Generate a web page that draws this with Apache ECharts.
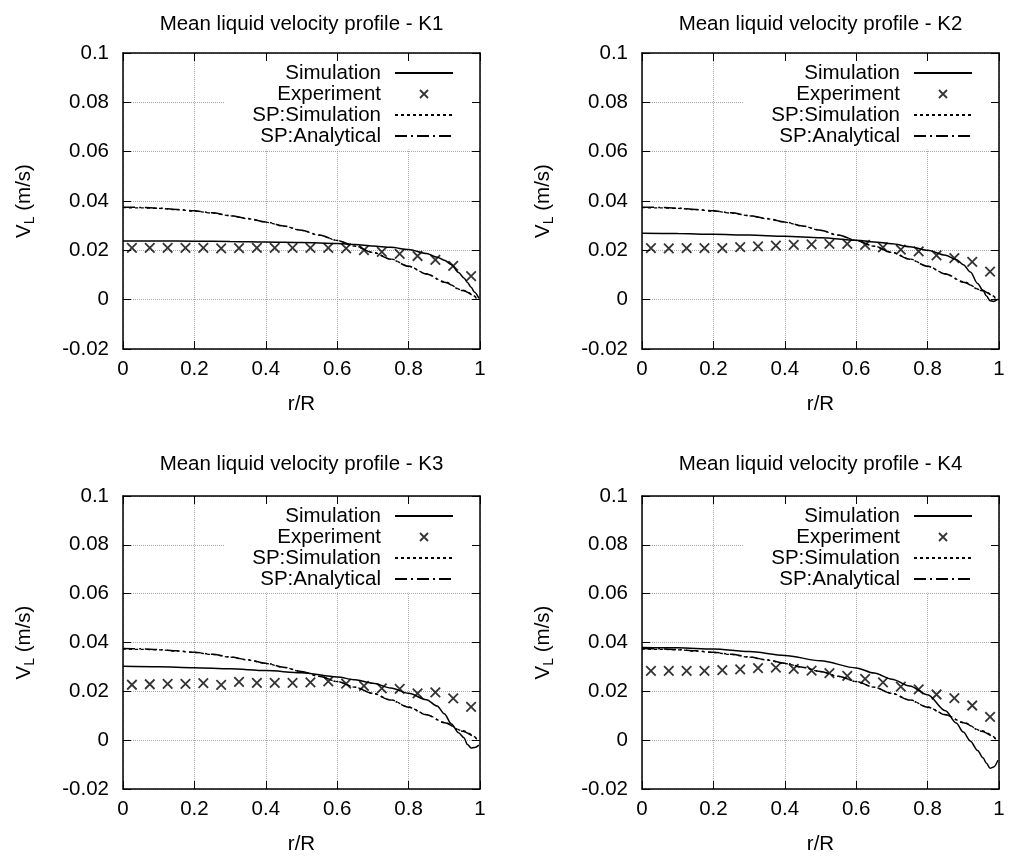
<!DOCTYPE html>
<html>
<head>
<meta charset="utf-8">
<title>Mean liquid velocity profile</title>
<script src="https://cdn.jsdelivr.net/npm/echarts@6/dist/echarts.min.js"></script>
<style>
html, body { margin: 0; padding: 0; background: #fff; }
#container { width: 1009px; height: 856px; }
</style>
</head>
<body>
<div id="container"></div>
<script>
// case names
var cases = ['K1', 'K2', 'K3', 'K4'];

// experiment: measuring positions r/R
var expR = [0.025, 0.075, 0.125, 0.175, 0.225, 0.275, 0.325, 0.375, 0.425, 0.475,
            0.525, 0.575, 0.625, 0.675, 0.725, 0.775, 0.825, 0.875, 0.925, 0.975];
var expK1 = [0.0210, 0.0210, 0.0210, 0.0210, 0.0210, 0.0208, 0.0209, 0.0210, 0.0210, 0.0210,
             0.0210, 0.0210, 0.0208, 0.0201, 0.0194, 0.0186, 0.0177, 0.0161, 0.0137, 0.0095];
var expK2 = [0.0209, 0.0208, 0.0209, 0.0209, 0.0209, 0.0213, 0.0216, 0.0219, 0.0222, 0.0224,
             0.0226, 0.0226, 0.0222, 0.0212, 0.0203, 0.0196, 0.0180, 0.0168, 0.0153, 0.0114];
var expK3 = [0.0227, 0.0229, 0.0231, 0.0231, 0.0234, 0.0226, 0.0239, 0.0235, 0.0235, 0.0235,
             0.0237, 0.0241, 0.0232, 0.0222, 0.0212, 0.0210, 0.0192, 0.0196, 0.0171, 0.0136];
var expK4 = [0.0284, 0.0284, 0.0284, 0.0284, 0.0287, 0.0290, 0.0295, 0.0297, 0.0292, 0.0285,
             0.0275, 0.0263, 0.0251, 0.0237, 0.0219, 0.0208, 0.0187, 0.0172, 0.0142, 0.0095];

// two-phase simulation
var simR = [0, 0.1, 0.2, 0.3, 0.4, 0.5, 0.6, 0.65, 0.7, 0.75, 0.8,
            0.85, 0.88, 0.9, 0.92, 0.94, 0.955, 0.965, 0.975, 0.985, 0.997];
var simK1 = [0.0238, 0.0238, 0.0237, 0.0236, 0.0234, 0.0232, 0.0228, 0.0224, 0.0218, 0.0212, 0.0203,
             0.0187, 0.0172, 0.0160, 0.0142, 0.0110, 0.0088, 0.0070, 0.0050, 0.0030, 0.0005];
var simK2 = [0.0269, 0.0268, 0.0265, 0.0262, 0.0257, 0.0251, 0.0241, 0.0234, 0.0227, 0.0215, 0.0200,
             0.0180, 0.0163, 0.0142, 0.0112, 0.0066, 0.0038, 0.0015, -0.0004, -0.0007, 0.0002];
var simK3 = [0.0303, 0.0301, 0.0297, 0.0292, 0.0285, 0.0276, 0.0259, 0.0247, 0.0233, 0.0214, 0.0192,
             0.0166, 0.0140, 0.0108, 0.0066, 0.0030, 0.0010, -0.0018, -0.0032, -0.0030, -0.0020];
var simK4 = [0.0380, 0.0378, 0.0373, 0.0363, 0.0347, 0.0325, 0.0296, 0.0275, 0.0250, 0.0222, 0.0186,
             0.0120, 0.0070, 0.0033, -0.0004, -0.0042, -0.0072, -0.0095, -0.0115, -0.0110, -0.0082];

// single-phase curves (same in every panel)
var spR = [0, 0.05, 0.1, 0.15, 0.2, 0.25, 0.3, 0.35, 0.4, 0.45, 0.5,
           0.55, 0.6, 0.65, 0.7, 0.75, 0.8, 0.85, 0.9, 0.95, 0.995];
var spSim = [0.0373, 0.0372, 0.0370, 0.0365, 0.0359, 0.0351, 0.0340, 0.0328, 0.0314, 0.0298, 0.0281,
             0.0261, 0.0240, 0.0217, 0.0192, 0.0165, 0.0136, 0.0105, 0.0073, 0.0039, 0.0003];
var spAna = [0.0375, 0.0374, 0.0371, 0.0366, 0.0360, 0.0352, 0.0341, 0.0329, 0.0315, 0.0299, 0.0281,
             0.0262, 0.0240, 0.0217, 0.0191, 0.0164, 0.0135, 0.0104, 0.0071, 0.0037, 0.0000];

var yTicks = [-0.02, 0.1, 0.02];
var xTicks = [0, 1, 0.2];

var expAll = [expK1, expK2, expK3, expK4];
var simAll = [simK1, simK2, simK3, simK4];

var FONT = 'Liberation Sans';
var FS = 20.5;
var CROSS = 'path://M0,0L10,10M0,10L10,0';
var CROSS_KEY = 'path://M0,0M58,14M25,3L33,11M25,11L33,3';

function zip(xs, ys) {
  return xs.map(function (x, k) { return [x, ys[k]]; });
}

var boxes = [
  [123, 53, 357, 296],
  [642, 53, 357, 296],
  [123, 496, 357, 295],
  [642, 496, 357, 295]
];
var titleTop = [14, 14, 454, 454];

var dom = document.getElementById('container');
var myChart = echarts.init(dom, null, { renderer: 'canvas' });

var option = {
  backgroundColor: '#fff',
  animation: false,
  textStyle: { fontFamily: FONT, color: '#000' },
  title: [], grid: [], xAxis: [], yAxis: [], legend: [], series: []
};

var blackLine = { show: true, onZero: false, lineStyle: { color: '#000', width: 1.5 } };
var inTick = { show: true, inside: true, length: 8, lineStyle: { color: '#000', width: 1 } };
var noMark = { color: 'transparent', borderWidth: 0 };

cases.forEach(function (k, i) {
  var b = boxes[i];
  option.title.push({
    text: 'Mean liquid velocity profile - ' + k,
    left: b[0] + b[2] / 2,
    top: titleTop[i],
    textAlign: 'center',
    padding: 0,
    textStyle: { fontSize: FS, fontWeight: 'normal', color: '#000', fontFamily: FONT }
  });
  option.grid.push({ left: b[0], top: b[1], width: b[2], height: b[3] });

  option.xAxis.push({
    type: 'value', gridIndex: i, min: xTicks[0], max: xTicks[1], interval: xTicks[2],
    name: 'r/R', nameLocation: 'middle', nameGap: 45,
    nameTextStyle: { fontSize: FS, color: '#000', fontFamily: FONT },
    axisLine: blackLine, axisTick: inTick,
    axisLabel: { margin: 10, fontSize: FS, color: '#000', fontFamily: FONT },
    splitLine: { show: true, lineStyle: { type: 'dotted', color: '#a8a8a8', width: 1 } }
  });
  option.xAxis.push({
    type: 'value', gridIndex: i, position: 'top', min: xTicks[0], max: xTicks[1], interval: xTicks[2],
    axisLine: blackLine, axisTick: inTick, axisLabel: { show: false },
    splitLine: { show: false }, z: 5
  });

  option.yAxis.push({
    type: 'value', gridIndex: i, min: yTicks[0], max: yTicks[1], interval: yTicks[2],
    name: '{m|V}{s|L}{m| (m/s)}', nameLocation: 'middle', nameGap: 86, nameRotate: 90,
    nameTextStyle: {
      fontSize: FS, color: '#000', fontFamily: FONT,
      rich: {
        m: { fontSize: FS, color: '#000', fontFamily: FONT },
        s: { fontSize: 14, color: '#000', fontFamily: FONT, padding: [12, 0, 0, 0] }
      }
    },
    axisLine: blackLine, axisTick: inTick,
    axisLabel: { margin: 14, fontSize: FS, color: '#000', fontFamily: FONT },
    splitLine: { show: true, lineStyle: { type: 'dotted', color: '#a8a8a8', width: 1 } }
  });
  option.yAxis.push({
    type: 'value', gridIndex: i, position: 'right', min: yTicks[0], max: yTicks[1], interval: yTicks[2],
    axisLine: blackLine, axisTick: inTick, axisLabel: { show: false },
    splitLine: { show: false }, z: 5
  });

  option.legend.push({
    orient: 'vertical', align: 'right',
    right: 1009 - (b[0] + b[2]) + 1,
    top: b[1] + 1.5,
    padding: [8, 25, 3, 28],
    backgroundColor: '#fff',
    itemWidth: 58, itemHeight: 14, itemGap: 0,
    selectedMode: false,
    z: 3,
    textStyle: { fontSize: FS, lineHeight: 21, color: '#000', fontFamily: FONT, padding: [0, 9, 0, 0] },
    data: [
      { name: 'Simulation', itemStyle: noMark },
      { name: 'Experiment', icon: CROSS_KEY,
        itemStyle: { color: 'transparent', borderColor: '#000', borderWidth: 1.8 } },
      { name: 'SP:Simulation', itemStyle: noMark },
      { name: 'SP:Analytical', itemStyle: noMark }
    ]
  });

  var ax = { xAxisIndex: 2 * i, yAxisIndex: 2 * i };
  option.series.push(Object.assign({
    name: 'Simulation', type: 'line', data: zip(simR, simAll[i]),
    symbol: 'none', smooth: 0.3, smoothMonotone: 'x',
    lineStyle: { color: '#000', width: 1.5, type: 'solid' },
    itemStyle: { color: 'transparent' }
  }, ax));
  option.series.push(Object.assign({
    name: 'Experiment', type: 'scatter', data: zip(expR, expAll[i]),
    symbol: CROSS, symbolSize: 9.5,
    itemStyle: { color: 'transparent', borderColor: '#000', borderWidth: 1.8 }
  }, ax));
  option.series.push(Object.assign({
    name: 'SP:Simulation', type: 'line', data: zip(spR, spSim),
    symbol: 'none', smooth: 0.3, smoothMonotone: 'x',
    lineStyle: { color: '#000', width: 1.3, type: [3, 3] },
    itemStyle: { color: 'transparent' }
  }, ax));
  option.series.push(Object.assign({
    name: 'SP:Analytical', type: 'line', data: zip(spR, spAna),
    symbol: 'none', smooth: 0.3, smoothMonotone: 'x',
    lineStyle: { color: '#000', width: 1.5, type: [12, 4, 2, 4] },
    itemStyle: { color: 'transparent' }
  }, ax));
});

if (option && typeof option === 'object') {
  myChart.setOption(option);
}
</script>
</body>
</html>
